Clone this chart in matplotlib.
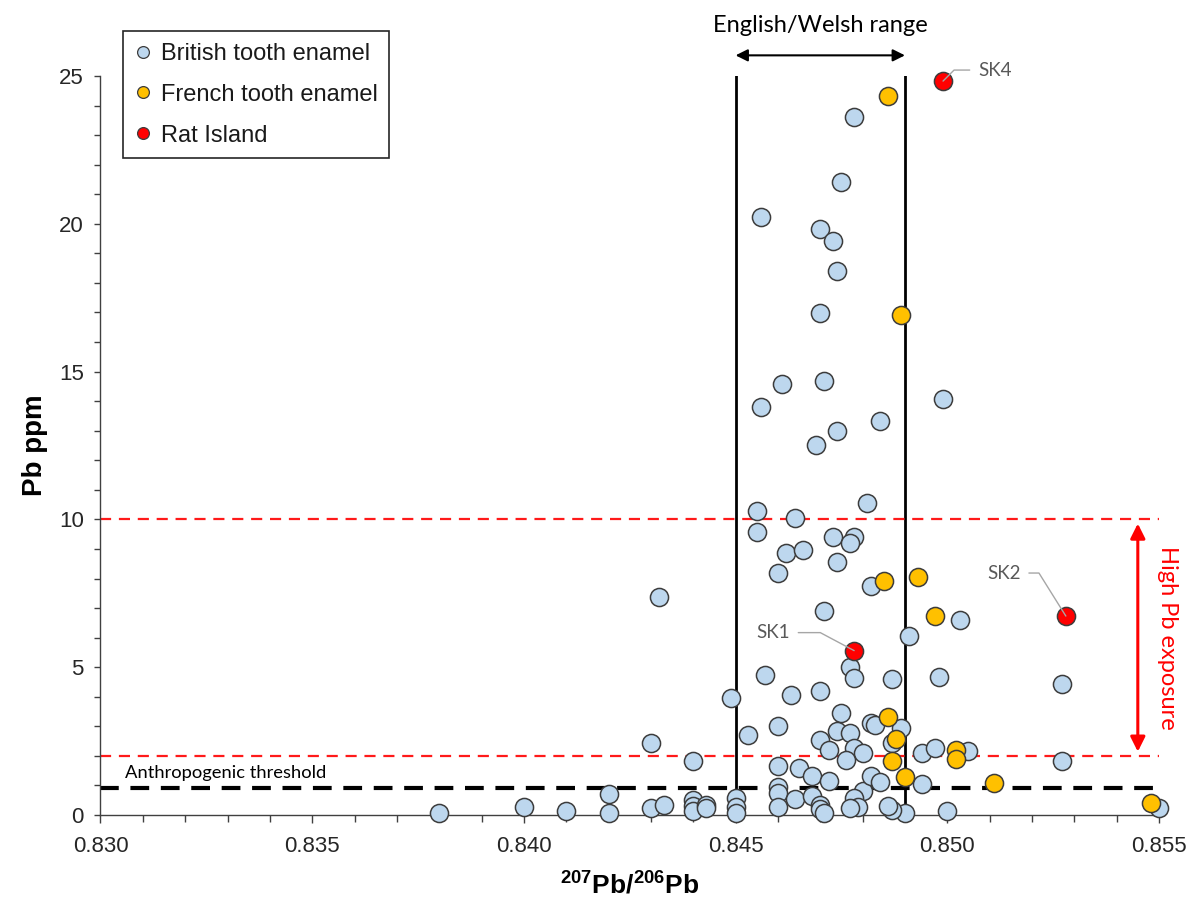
import matplotlib
matplotlib.use("Agg")
import matplotlib.pyplot as plt
from matplotlib.lines import Line2D

plt.rcParams['font.family'] = ['Liberation Sans', 'DejaVu Sans']
plt.rcParams['mathtext.fontset'] = 'custom'
plt.rcParams['mathtext.rm'] = 'Liberation Sans'
plt.rcParams['mathtext.bf'] = 'Liberation Sans:bold'

# 207Pb/206Pb ratio and Pb concentration (ppm)
british_ratio = [
    0.8380, 0.8400, 0.8410, 0.8420, 0.8420, 0.8430, 0.8433, 0.8432, 0.8430, 0.8440,
    0.8440, 0.8440, 0.8440, 0.8443, 0.8443, 0.8450, 0.8450, 0.8450, 0.8449, 0.8453,
    0.8460, 0.8457, 0.8460, 0.8463, 0.8460, 0.8460, 0.8460, 0.8460, 0.8465, 0.8464,
    0.8474, 0.8482, 0.8471, 0.8503, 0.8491, 0.8477, 0.8478, 0.8487, 0.8498, 0.8527,
    0.8527, 0.8470, 0.8475, 0.8474, 0.8477, 0.8470, 0.8472, 0.8478, 0.8480, 0.8476,
    0.8482, 0.8483, 0.8489, 0.8487, 0.8494, 0.8497, 0.8505, 0.8494, 0.8550, 0.8500,
    0.8490, 0.8487, 0.8486, 0.8480, 0.8478, 0.8479, 0.8477, 0.8468, 0.8470, 0.8470,
    0.8471, 0.8468, 0.8472, 0.8482, 0.8484,
    0.8478, 0.8475, 0.8456, 0.8470, 0.8473, 0.8474, 0.8470, 0.8461, 0.8471, 0.8456,
    0.8499, 0.8484, 0.8474, 0.8469, 0.8481, 0.8455, 0.8464, 0.8455, 0.8462, 0.8466,
    0.8473, 0.8478, 0.8477,
]
british_ppm = [
    0.05, 0.28, 0.13, 0.72, 0.06, 0.23, 0.35, 7.38, 2.43, 1.84,
    0.50, 0.30, 0.12, 0.35, 0.22, 0.58, 0.26, 0.06, 3.97, 2.69,
    3.00, 4.72, 8.20, 4.05, 1.66, 0.95, 0.75, 0.26, 1.60, 0.54,
    8.55, 7.73, 6.90, 6.58, 6.06, 5.02, 4.62, 4.60, 4.66, 4.42,
    1.84, 4.18, 3.44, 2.85, 2.76, 2.52, 2.20, 2.25, 2.08, 1.85,
    3.10, 3.06, 2.95, 2.43, 2.08, 2.25, 2.18, 1.05, 0.23, 0.15,
    0.08, 0.17, 0.30, 0.80, 0.56, 0.26, 0.24, 0.65, 0.35, 0.20,
    0.05, 1.32, 1.14, 1.33, 1.13,
    23.62, 21.42, 20.22, 19.81, 19.43, 18.41, 16.97, 14.58, 14.68, 13.79,
    14.06, 13.33, 12.99, 12.52, 10.56, 10.28, 10.06, 9.56, 8.87, 8.96,
    9.41, 9.39, 9.21,
]

french_ratio = [0.8486, 0.8489, 0.8485, 0.8493, 0.8497, 0.8486, 0.8488,
                0.8487, 0.8490, 0.8502, 0.8502, 0.8511, 0.8548]
french_ppm = [24.32, 16.93, 7.90, 8.04, 6.73, 3.33, 2.56,
              1.83, 1.30, 2.20, 1.88, 1.08, 0.42]

rat_labels = ['SK4', 'SK1', 'SK2']
rat_ratio = [0.8499, 0.8478, 0.8528]
rat_ppm = [24.83, 5.56, 6.73]

england_wales_range = (0.845, 0.849)
high_pb_band = (2.0, 10.0)
anthropogenic_threshold = 0.9

fig = plt.figure(figsize=(11.92, 9.02), dpi=100)
ax = fig.add_axes([0.0843, 0.0965, 0.8880, 0.8192])

ax.set_xlim(0.830, 0.855)
ax.set_ylim(0, 25)

# reference lines
for xv in england_wales_range:
    ax.plot([xv, xv], [0, 25], color='black', lw=2, zorder=2)
for yv in high_pb_band:
    ax.axhline(yv, color='#ff1a1a', lw=1.6, ls=(0, (5, 3.5)), zorder=2)
ax.axhline(anthropogenic_threshold, color='black', lw=3, ls=(0, (4.5, 2.8)), zorder=2)

edge = '#3c3c3c'
size = 170
ax.scatter(british_ratio, british_ppm, s=size, c='#bdd7ee', edgecolors=edge,
           linewidths=1.1, zorder=3, clip_on=False)
ax.scatter(french_ratio, french_ppm, s=size, c='#ffc000', edgecolors=edge,
           linewidths=1.1, zorder=4, clip_on=False)
ax.scatter(rat_ratio, rat_ppm, s=size, c='#ff0000', edgecolors=edge,
           linewidths=1.1, zorder=5, clip_on=False)

# sample labels with leader lines
label_setup = {
    'SK4': dict(off=(35, 11), ha='left', relpos=(0, 0.5), angB=45),
    'SK1': dict(off=(-81, 18), ha='center', relpos=(1, 0.5), angB=-28),
    'SK2': dict(off=(-62, 43), ha='center', relpos=(1, 0.5), angB=-58),
}
for lab, xr, yp in zip(rat_labels, rat_ratio, rat_ppm):
    cfg = label_setup[lab]
    ax.annotate(lab, xy=(xr, yp), xytext=cfg['off'], textcoords='offset pixels',
                ha=cfg['ha'], va='center', fontsize=13.5, color='#595959',
                family=['Lato', 'DejaVu Sans'], zorder=6, annotation_clip=False,
                arrowprops=dict(arrowstyle='-', color='#a6a6a6', lw=1,
                                shrinkA=4, shrinkB=0, relpos=cfg['relpos'],
                                connectionstyle='angle,angleA=0,angleB=%d,rad=0' % cfg['angB']))

# English/Welsh range bracket
ax.annotate('', xy=(england_wales_range[0], 25.7), xytext=(england_wales_range[1], 25.7),
            arrowprops=dict(arrowstyle='<|-|>', color='black', lw=1.5,
                            mutation_scale=18, shrinkA=0, shrinkB=0),
            annotation_clip=False)
ax.text(sum(england_wales_range) / 2, 26.7, 'English/Welsh range', ha='center', va='center',
        fontsize=17, color='black', family=['Lato', 'DejaVu Sans'])

# High Pb exposure band
ax.annotate('', xy=(0.8545, high_pb_band[0]), xytext=(0.8545, high_pb_band[1]),
            arrowprops=dict(arrowstyle='<|-|>', color='#ff0000', lw=2.2,
                            mutation_scale=22, shrinkA=3, shrinkB=3),
            annotation_clip=False)
ax.text(0.8552, sum(high_pb_band) / 2, 'High Pb exposure', rotation=270,
        ha='center', va='center', fontsize=17, color='#ff0000',
        family=['Lato', 'DejaVu Sans'], clip_on=False)

ax.text(0.83058, 1.42, 'Anthropogenic threshold', ha='left', va='center',
        fontsize=13.2, color='black', family=['Lato', 'DejaVu Sans'])

# axes styling
for side in ('top', 'right'):
    ax.spines[side].set_visible(False)
for side in ('left', 'bottom'):
    ax.spines[side].set_color('#404040')
    ax.spines[side].set_linewidth(1)

ax.set_xticks([0.830, 0.835, 0.840, 0.845, 0.850, 0.855])
ax.set_xticklabels(['0.830', '0.835', '0.840', '0.845', '0.850', '0.855'])
ax.set_xticks([0.830 + 0.001 * i for i in range(26)], minor=True)
ax.set_yticks([0, 5, 10, 15, 20, 25])
ax.set_yticks(range(26), minor=True)
ax.tick_params(axis='both', which='both', direction='out', colors='#404040',
               labelcolor='#262626', labelsize=16, width=1)
ax.tick_params(axis='x', which='major', length=6, pad=9)
ax.tick_params(axis='x', which='minor', length=5)
ax.tick_params(axis='y', which='major', length=4, pad=8)
ax.tick_params(axis='y', which='minor', length=4)

ax.set_xlabel(r'$\mathbf{^{207}Pb/^{206}Pb}$', fontsize=19, labelpad=11)
ax.set_ylabel('Pb ppm', fontsize=20, fontweight='bold', labelpad=8)

handles = [
    Line2D([], [], ls='none', marker='o', markersize=8.5, markerfacecolor='#bdd7ee',
           markeredgecolor=edge, markeredgewidth=0.9, label='British tooth enamel'),
    Line2D([], [], ls='none', marker='o', markersize=8.5, markerfacecolor='#ffc000',
           markeredgecolor=edge, markeredgewidth=0.9, label='French tooth enamel'),
    Line2D([], [], ls='none', marker='o', markersize=8.5, markerfacecolor='#ff0000',
           markeredgecolor=edge, markeredgewidth=0.9, label='Rat Island'),
]
leg = ax.legend(handles=handles, loc='upper left', bbox_to_anchor=(0.1032, 0.9656),
                bbox_transform=fig.transFigure, borderaxespad=0, fontsize=17,
                frameon=True, fancybox=False, edgecolor='#262626', framealpha=1,
                handlelength=0.7, handletextpad=0.4, labelspacing=0.8, borderpad=0.5)
leg.get_frame().set_linewidth(1.2)
for t in leg.get_texts():
    t.set_color('#1a1a1a')

fig.savefig('out.png', dpi=100, facecolor='white')
